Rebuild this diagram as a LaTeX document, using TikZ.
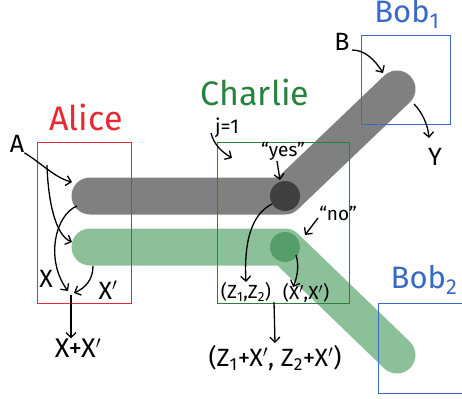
\documentclass[tikz,border=0pt]{standalone}
\usepackage{fontspec}
\setmainfont{Fira Sans}
\usetikzlibrary{arrows.meta}
\definecolor{bandgray}{RGB}{128,128,128}
\definecolor{darkgray2}{RGB}{64,64,64}
\definecolor{bandgreen}{RGB}{140,192,153}
\definecolor{darkgreen2}{RGB}{85,157,105}
\definecolor{alicered}{RGB}{232,40,50}
\definecolor{charliegreen}{RGB}{40,130,60}
\definecolor{bobblue}{RGB}{55,105,200}
\begin{document}
\begin{tikzpicture}[x=1pt,y=-1pt,
  lab/.style={inner sep=0pt, font=\fontsize{25}{25}\selectfont},
  small/.style={inner sep=0pt, font=\fontsize{19}{19}\selectfont},
  big/.style={inner sep=0pt, font=\fontsize{34}{34}\selectfont},
  ann/.style={draw=black, line width=1.3pt, -{Straight Barb[length=5pt,width=10pt]}},
  band/.style={line width=37pt, line cap=round, line join=round},
  party/.style={line width=0.8pt}]
\useasboundingbox (0,0) rectangle (462,398);
% bands
\coordinate (gL) at (90,196); \coordinate (gJ) at (285,196); \coordinate (gE) at (397,89);
\coordinate (nL) at (90,247); \coordinate (nJ) at (285,247); \coordinate (nE) at (397,355);
\draw[band, bandgray] (gL) -- (gJ) -- (gE);
\draw[band, bandgreen] (nL) -- (nJ) -- (nE);
\fill[darkgray2] (gJ) circle (15);
\fill[darkgreen2] (nJ) circle (15);
% boxes
\draw[party, alicered] (37,142) rectangle (131,303);
\draw[party, charliegreen] (217,142) rectangle (349,303);
\draw[party, bobblue] (361,35) rectangle (450,124);
\draw[party, bobblue] (378,303) rectangle (470,393);
% titles
\node[big, text=alicered] (alice) at (86,117) {Alice};
\node[big, text=charliegreen] (charlie) at (255,92) {Charlie};
\node[big, text=bobblue, font=\fontsize{31}{31}\selectfont] (bob1) at (407,14) {Bob\textsubscript{1}};
\node[big, text=bobblue, font=\fontsize{31}{31}\selectfont] (bob2) at (424,280) {Bob\textsubscript{2}};
% labels
\node[lab] (A) at (17,144) {A};
\node[lab] (B) at (342,42) {B};
\node[lab] (Y) at (435,157) {Y};
\node[lab] (X) at (46,279) {X};
\node[lab] (Xp) at (108,290) {X$'$};
\node[lab, font=\fontsize{27}{27}\selectfont] (XX) at (78,348) {X+X$'$};
\node[small, font=\fontsize{20}{20}\selectfont] (j) at (227,128) {j=1};
\node[small] (yes) at (283,151) {“yes”};
\node[small] (no) at (338,213) {“no”};
\node[small] (zz) at (246,292) {(Z\textsubscript{1},Z\textsubscript{2})};
\node[small] (xx) at (306,293) {(X$'$,X$'$)};
\node[lab, font=\fontsize{25}{25}\selectfont] (sum) at (275,358) {(Z\textsubscript{1}+X$'$, Z\textsubscript{2}+X$'$)};
% Alice arrows
\coordinate (a1) at (72,182);
\coordinate (a2s) at (47,165); \coordinate (a2) at (72,242);
\coordinate (gcap) at (77,206); \coordinate (x1) at (68,291);
\coordinate (ncap) at (93,266); \coordinate (x2) at (74,293);
\coordinate (xs) at (71,295);
\draw[ann] (A.south east) .. controls (40,162) and (55,178) .. (a1);
\draw[ann] (a2s) .. controls (48,200) and (55,235) .. (a2);
\draw[ann] (gcap) .. controls (55,215) and (45,260) .. (x1);
\draw[ann] (ncap) .. controls (93,280) and (85,288) .. (x2);
\draw[ann] (xs) -- (XX.north -| xs);
% Charlie arrows
\coordinate (js) at (211,133); \coordinate (jend) at (232,158);
\draw[ann] (js) .. controls (214,145) and (222,152) .. (jend);
\coordinate (ysrt) at (277,161); \coordinate (yend) at (280,180);
\draw[ann] (ysrt) -- (yend);
\coordinate (zs) at (272,204); \coordinate (zend) at (246,282);
\draw[ann] (zs) .. controls (250,215) and (244,245) .. (zend);
\coordinate (nos) at (318,218); \coordinate (noend) at (305,235);
\draw[ann] (nos) -- (noend);
\coordinate (xs2) at (296,255); \coordinate (xend) at (293,287);
\draw[ann] (xs2) .. controls (300,268) and (296,280) .. (xend);
\coordinate (ss) at (274,302); \coordinate (send) at (275,343);
\draw[ann] (ss) -- (send);
% Bob arrows
\coordinate (bs) at (352,50); \coordinate (bend) at (383,73);
\draw[ann] (bs) .. controls (365,50) and (375,60) .. (bend);
\coordinate (ys) at (414,104); \coordinate (yend2) at (429,138);
\draw[ann] (ys) .. controls (422,112) and (428,125) .. (yend2);
\end{tikzpicture}
\end{document}
